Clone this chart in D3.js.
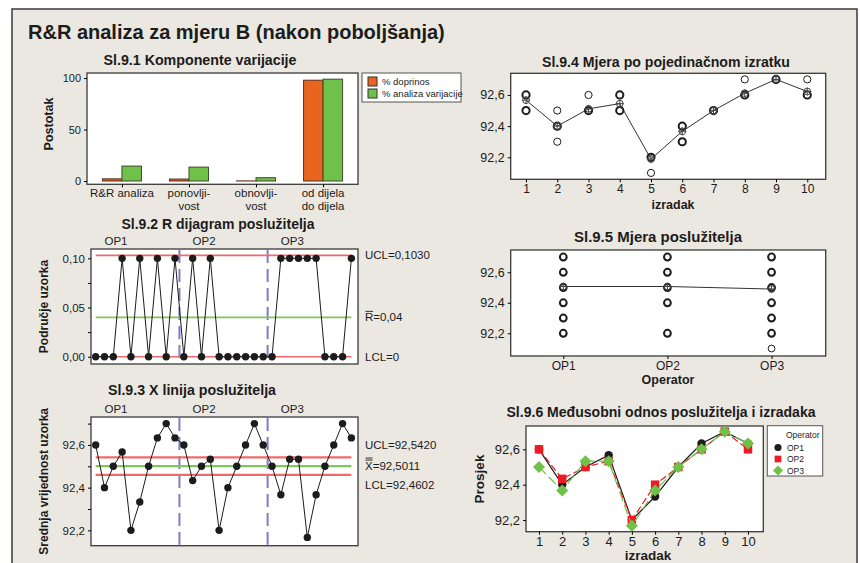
<!DOCTYPE html>
<html>
<head>
<meta charset="utf-8">
<script src="https://cdn.jsdelivr.net/npm/d3@7"></script>
<style>
  body { margin: 0; background: #fff; }
  svg { display: block; }
  text { font-family: "Liberation Sans", Arial, sans-serif; fill: #1c1c1c; }
</style>
</head>
<body>
<svg id="chart" width="860" height="563"></svg>
<script>
// Sl.9.1 components of variation
const components = ['R&R analiza', 'ponovlji-|vost', 'obnovlji-|vost', 'od dijela|do dijela'];
const pctContribution = [2.1, 1.9, 0.1, 97.9];
const pctStudyVar = [14.5, 13.5, 3.2, 98.9];
const barSeries = ['% doprinos', '% analiza varijacije'];

const operators = ['OP1', 'OP2', 'OP3'];
const parts = [1, 2, 3, 4, 5, 6, 7, 8, 9, 10];

// sample means per part (X chart, Sl.9.6)
const xbarOP1 = [92.600, 92.400, 92.500, 92.567, 92.200, 92.333, 92.500, 92.633, 92.700, 92.633];
const xbarOP2 = [92.600, 92.433, 92.500, 92.533, 92.200, 92.400, 92.500, 92.600, 92.700, 92.600];
const xbarOP3 = [92.500, 92.367, 92.533, 92.533, 92.167, 92.367, 92.500, 92.600, 92.700, 92.633];

// sample ranges per part (R chart)
const rangeOP1 = [0, 0, 0, 0.1, 0, 0.1, 0, 0.1, 0, 0.1];
const rangeOP2 = [0, 0.1, 0, 0.1, 0, 0, 0, 0, 0, 0];
const rangeOP3 = [0, 0.1, 0.1, 0.1, 0.1, 0.1, 0, 0, 0, 0.1];

// single measurements, 3 trials per part (Sl.9.4, Sl.9.5)
const measOP1 = [[92.6, 92.6, 92.6], [92.4, 92.4, 92.4], [92.5, 92.5, 92.5], [92.6, 92.6, 92.5], [92.2, 92.2, 92.2],
  [92.3, 92.3, 92.4], [92.5, 92.5, 92.5], [92.6, 92.6, 92.7], [92.7, 92.7, 92.7], [92.6, 92.6, 92.7]];
const measOP2 = [[92.6, 92.6, 92.6], [92.4, 92.4, 92.5], [92.5, 92.5, 92.5], [92.5, 92.5, 92.6], [92.2, 92.2, 92.2],
  [92.4, 92.4, 92.4], [92.5, 92.5, 92.5], [92.6, 92.6, 92.6], [92.7, 92.7, 92.7], [92.6, 92.6, 92.6]];
const measOP3 = [[92.5, 92.5, 92.5], [92.4, 92.4, 92.3], [92.5, 92.5, 92.6], [92.5, 92.5, 92.6], [92.2, 92.2, 92.1],
  [92.4, 92.4, 92.3], [92.5, 92.5, 92.5], [92.6, 92.6, 92.6], [92.7, 92.7, 92.7], [92.6, 92.6, 92.7]];

const rLimits = { ucl: 0.1030, center: 0.04, lcl: 0 };
const xLimits = { ucl: 92.5420, center: 92.5011, lcl: 92.4602 };

const C = {
  ink: '#1c1c1c',
  orange: '#e8641f',
  green: '#6fc14a',
  limit: '#ef6a6a',
  center: '#7cc85a',
  divider: '#7c7cc8',
  red: '#ec1c24',
  frame: '#3a3a3a',
};

let loc = d3.formatLocale({ decimal: ',', thousands: '.', grouping: [3], currency: ['', ''] });
let f1 = loc.format('.1f');
let f2 = loc.format('.2f');
let f4 = loc.format('.4f');

let svg = d3.select('#chart');

// page frame
svg.append('rect').attr('x', 12).attr('y', 9).attr('width', 845).attr('height', 570)
  .style('fill', '#ebe7e1').style('stroke', '#3a3a3a').style('stroke-width', 1.5);

svg.append('text').attr('x', 28).attr('y', 39)
  .style('font-size', '20px').style('font-weight', 'bold')
  .text('R&R analiza za mjeru B (nakon poboljšanja)');

function title(txt, cx, y, w) {
  svg.append('text').attr('x', cx).attr('y', y).attr('text-anchor', 'middle')
    .style('font-size', '14px').style('font-weight', 'bold')
    .attr('textLength', w).attr('lengthAdjust', 'spacingAndGlyphs')
    .text(txt);
}

function plotBox(x0, y0, x1, y1) {
  svg.append('rect').attr('x', x0).attr('y', y0).attr('width', x1 - x0).attr('height', y1 - y0)
    .style('fill', '#fff').style('stroke', C.frame).style('stroke-width', 1.3);
}

function leftAxis(y, x0, major, minor, fmt, size) {
  if (minor) {
    svg.append('g').attr('transform', `translate(${x0},0)`)
      .call(d3.axisLeft(y).tickValues(minor).tickSize(3).tickFormat(''))
      .call(g => g.select('.domain').remove());
  }
  svg.append('g').attr('transform', `translate(${x0},0)`)
    .call(d3.axisLeft(y).tickValues(major).tickSize(3).tickPadding(3).tickFormat(fmt))
    .call(g => g.select('.domain').remove())
    .call(g => g.selectAll('text').style('font-size', size + 'px').style('font-family', null).attr('fill', C.ink));
}

function bottomAxis(x, y0, values, fmt, size) {
  svg.append('g').attr('transform', `translate(0,${y0})`)
    .call(d3.axisBottom(x).tickValues(values).tickSize(3).tickPadding(2).tickFormat(fmt))
    .call(g => g.select('.domain').remove())
    .call(g => g.selectAll('text').style('font-size', size + 'px').style('font-family', null).attr('fill', C.ink));
}

function axisLabel(txt, x, y, size, rotate) {
  svg.append('text').attr('text-anchor', 'middle')
    .attr('transform', `translate(${x},${y})` + (rotate ? ' rotate(-90)' : ''))
    .style('font-size', size + 'px').style('font-weight', 'bold')
    .text(txt);
}

// ---------- Sl.9.1 ----------
{
  title('Sl.9.1 Komponente varijacije', 200, 65, 193);
  plotBox(87, 73, 358, 184.3);
  let x = d3.scaleBand().domain(components).range([87, 358]).paddingInner(0.418).paddingOuter(0.23);
  let xi = d3.scaleBand().domain([0, 1]).range([0, x.bandwidth()]);
  let y = d3.scaleLinear().domain([-3.2, 104.9]).range([184.3, 73]);
  let rows = components.map((c, i) => ({ c, vals: [pctContribution[i], pctStudyVar[i]] }));
  let grp = svg.append('g').selectAll('g').data(rows).join('g')
    .attr('transform', d => `translate(${x(d.c)},0)`);
  grp.selectAll('rect').data(d => d.vals).join('rect')
    .attr('x', (d, j) => xi(j)).attr('width', xi.bandwidth())
    .attr('y', d => y(Math.max(d, 0))).attr('height', d => Math.abs(y(d) - y(0)))
    .style('fill', (d, j) => j ? C.green : C.orange)
    .style('stroke', (d, j) => j ? '#3b4a30' : '#5a3020').style('stroke-width', 1);
  leftAxis(y, 87, [0, 50, 100], null, d3.format('d'), 11);
  svg.append('g').attr('transform', 'translate(0,184.3)')
    .call(d3.axisBottom(d3.scalePoint().domain(components).range([x(components[0]) + x.bandwidth() / 2, x(components[3]) + x.bandwidth() / 2])).tickSize(3).tickFormat(''))
    .call(g => g.select('.domain').remove());
  let lab = svg.append('g').selectAll('text').data(components).join('text')
    .attr('text-anchor', 'middle').style('font-size', '11.5px')
    .attr('x', d => x(d) + x.bandwidth() / 2).attr('y', 197);
  lab.selectAll('tspan').data(d => d.split('|')).join('tspan')
    .attr('x', function () { return this.parentNode.getAttribute('x'); })
    .attr('dy', (d, i) => i ? 13 : 0).text(d => d);
  axisLabel('Postotak', 53, 124, 12.5, true);

  let lg = svg.append('g');
  lg.append('rect').attr('x', 362).attr('y', 73).attr('width', 99).attr('height', 29)
    .style('fill', '#fff').style('stroke', '#555');
  barSeries.forEach((s, i) => {
    lg.append('rect').attr('x', 368).attr('y', 77 + i * 12).attr('width', 9).attr('height', 9)
      .style('fill', i ? C.green : C.orange).style('stroke', '#333');
    lg.append('text').attr('x', 382).attr('y', 85 + i * 12).style('font-size', '9.5px').text(s);
  });
}

// shared piece for the two control charts
function controlChart(opt) {
  let { top, bottom, yDomain, series, limits, fmtLimit, major, minor, fmtTick, ylabel, labelOffsets, centerName } = opt;
  let x0 = 91, x1 = 358;
  plotBox(x0, top, x1, bottom);
  let x = d3.scaleLinear().domain([0.47, 30.75]).range([x0, x1]);
  let y = d3.scaleLinear().domain(yDomain).range([bottom, top]);
  let pts = series.flat().map((v, i) => ({ i: i + 1, v }));

  // operator dividers
  [10.5, 20.5].forEach(b => {
    svg.append('line').attr('x1', x(b)).attr('x2', x(b)).attr('y1', top + 1).attr('y2', bottom - 1)
      .style('stroke', C.divider).style('stroke-width', 2).style('stroke-dasharray', '13,6');
  });
  operators.forEach((op, k) => {
    svg.append('text').attr('x', x(k * 10 + 3.3)).attr('y', top - 4).attr('text-anchor', 'middle')
      .style('font-size', '11.5px').text(op);
  });

  let lx0 = x(1), lx1 = x(30);
  [['ucl', C.limit], ['center', C.center], ['lcl', C.limit]].forEach(([k, col]) => {
    svg.append('line').attr('x1', lx0).attr('x2', lx1).attr('y1', y(limits[k])).attr('y2', y(limits[k]))
      .style('stroke', col).style('stroke-width', opt.limitWidth);
  });

  svg.append('path').datum(pts)
    .attr('d', d3.line().x(d => x(d.i)).y(d => y(d.v)))
    .style('fill', 'none').style('stroke', C.ink).style('stroke-width', 1);
  svg.append('g').selectAll('circle').data(pts).join('circle')
    .attr('cx', d => x(d.i)).attr('cy', d => y(d.v)).attr('r', 3.7).style('fill', C.ink);

  leftAxis(y, x0, major, minor, fmtTick, 11.5);
  axisLabel(ylabel, 48, (top + bottom) / 2, 12, true);

  // limit labels on the right
  let lbl = [
    { k: 'ucl', t: 'UCL=' + fmtLimit(limits.ucl) },
    { k: 'center', t: '=' + fmtLimit(limits.center), bar: true },
    { k: 'lcl', t: 'LCL=' + fmtLimit(limits.lcl) },
  ];
  lbl.forEach((l, i) => {
    let yy = y(limits[l.k]) + 4 + labelOffsets[i];
    let t = svg.append('text').attr('x', 365).attr('y', yy).style('font-size', '11.5px');
    if (l.bar) {
      t.append('tspan').text(centerName.ch);
      t.append('tspan').text(l.t);
      let w = centerName.w;
      for (let b = 0; b < centerName.bars; b++) {
        svg.append('line').attr('x1', 365.5).attr('x2', 365 + w).attr('y1', yy - 10 - b * 2).attr('y2', yy - 10 - b * 2)
          .style('stroke', C.ink).style('stroke-width', 0.9);
      }
    } else {
      t.text(l.t);
    }
  });
}

// ---------- Sl.9.2 ----------
title('Sl.9.2 R dijagram poslužitelja', 218, 229, 193);
controlChart({
  top: 249, bottom: 364, yDomain: [-0.0074, 0.1095],
  series: [rangeOP1, rangeOP2, rangeOP3], limits: rLimits,
  fmtLimit: v => v === 0 ? '0' : (v === rLimits.ucl ? f4(v) : f2(v)),
  major: [0, 0.05, 0.1], minor: [0.025, 0.075], fmtTick: f2,
  ylabel: 'Područje uzorka', labelOffsets: [0, 0, 0],
  centerName: { ch: 'R', w: 8, bars: 1 }, limitWidth: 1.6,
});

// ---------- Sl.9.3 ----------
title('Sl.9.3 X linija poslužitelja', 192, 395, 168);
controlChart({
  top: 417, bottom: 545.7, yDomain: [92.128, 92.731],
  series: [xbarOP1, xbarOP2, xbarOP3], limits: xLimits,
  fmtLimit: f4,
  major: [92.2, 92.4, 92.6], minor: [92.3, 92.5, 92.7], fmtTick: f1,
  ylabel: 'Srednja vrijednost uzorka', labelOffsets: [-12, 0, 10],
  centerName: { ch: 'X', w: 7.5, bars: 2 }, limitWidth: 2.2,
});

// ---------- Sl.9.4 ----------
function crossMarker(g, cx, cy) {
  g.append('circle').attr('cx', cx).attr('cy', cy).attr('r', 3.4)
    .style('fill', 'none').style('stroke', '#444').style('stroke-width', 1);
  g.append('path').attr('d', `M${cx - 4},${cy}H${cx + 4}M${cx},${cy - 4}V${cy + 4}`)
    .style('stroke', '#444').style('stroke-width', 1);
}

{
  title('Sl.9.4 Mjera po pojedinačnom izratku', 666, 67, 248);
  let [x0, y0, x1, y1] = [510.7, 73.3, 825.7, 179.3];
  plotBox(x0, y0, x1, y1);
  let x = d3.scaleLinear().domain([0.51, 10.59]).range([x0, x1]);
  let y = d3.scaleLinear().domain([92.059, 92.739]).range([y1, y0]);
  let all = [measOP1, measOP2, measOP3];
  let dots = [];
  parts.forEach((p, i) => {
    let vals = all.flatMap(op => op[i]);
    d3.rollups(vals, v => v.length, v => v.toFixed(1)).forEach(([v, n]) => dots.push({ p, v: +v, n }));
  });
  let means = parts.map((p, i) => ({ p, v: d3.mean(all.flatMap(op => op[i])) }));
  let g = svg.append('g');
  g.append('path').datum(means).attr('d', d3.line().x(d => x(d.p)).y(d => y(d.v)))
    .style('fill', 'none').style('stroke', '#333').style('stroke-width', 1);
  g.selectAll('circle.m').data(dots).join('circle').attr('class', 'm')
    .attr('cx', d => x(d.p)).attr('cy', d => y(d.v)).attr('r', 3.6)
    .style('fill', 'none').style('stroke', C.ink).style('stroke-width', d => d.n >= 3 ? 2 : 1);
  means.forEach(d => crossMarker(g, x(d.p), y(d.v)));
  leftAxis(y, x0, [92.2, 92.4, 92.6], null, f1, 12.5);
  bottomAxis(x, y1, parts, d3.format('d'), 12);
  axisLabel('izradak', 673, 208.5, 12.5);
}

// ---------- Sl.9.5 ----------
{
  title('Sl.9.5 Mjera poslužitelja', 658, 242, 168);
  let [x0, y0, x1, y1] = [510.7, 250, 825.7, 356];
  plotBox(x0, y0, x1, y1);
  let x = d3.scaleLinear().domain([0.495, 3.52]).range([x0, x1]);
  let y = d3.scaleLinear().domain([92.051, 92.746]).range([y1, y0]);
  let all = [measOP1, measOP2, measOP3];
  let dots = [];
  all.forEach((op, k) => {
    d3.rollups(op.flat(), v => v.length, v => v.toFixed(1)).forEach(([v, n]) => dots.push({ k: k + 1, v: +v, n }));
  });
  let means = all.map((op, k) => ({ k: k + 1, v: d3.mean(op.flat()) }));
  let g = svg.append('g');
  g.append('path').datum(means).attr('d', d3.line().x(d => x(d.k)).y(d => y(d.v)))
    .style('fill', 'none').style('stroke', '#333').style('stroke-width', 1);
  g.selectAll('circle.m').data(dots).join('circle').attr('class', 'm')
    .attr('cx', d => x(d.k)).attr('cy', d => y(d.v)).attr('r', 3.4)
    .style('fill', 'none').style('stroke', C.ink).style('stroke-width', d => d.n >= 2 ? 2 : 1);
  means.forEach(d => crossMarker(g, x(d.k), y(d.v)));
  leftAxis(y, x0, [92.2, 92.4, 92.6], null, f1, 12.5);
  bottomAxis(x, y1, [1, 2, 3], d => operators[d - 1], 12);
  axisLabel('Operator', 668, 383.5, 12.5);
}

// ---------- Sl.9.6 ----------
let diamond = {
  draw(ctx, size) {
    let r = Math.sqrt(size / 2);
    ctx.moveTo(0, -r); ctx.lineTo(r, 0); ctx.lineTo(0, r); ctx.lineTo(-r, 0); ctx.closePath();
  }
};

{
  title('Sl.9.6  Međusobni odnos poslužitelja i izradaka', 661, 417, 309);
  let [x0, y0, x1, y1] = [526, 426, 763.3, 531.7];
  plotBox(x0, y0, x1, y1);
  let x = d3.scaleLinear().domain([0.44, 10.66]).range([x0, x1]);
  let y = d3.scaleLinear().domain([92.134, 92.732]).range([y1, y0]);
  let styles = [
    { col: C.ink, dash: null, sym: d3.symbolCircle, size: 56, lsize: 40 },
    { col: C.red, dash: '7,3', sym: d3.symbolSquare, size: 72, lsize: 45 },
    { col: C.green, dash: '10,4', sym: diamond, size: 72, lsize: 50 },
  ];
  let series = [xbarOP1, xbarOP2, xbarOP3];
  series.forEach((vals, k) => {
    let s = styles[k];
    let pts = vals.map((v, i) => ({ p: parts[i], v }));
    svg.append('path').datum(pts).attr('d', d3.line().x(d => x(d.p)).y(d => y(d.v)))
      .style('fill', 'none').style('stroke', s.col).style('stroke-width', 1.2)
      .style('stroke-dasharray', s.dash);
    svg.append('g').selectAll('path').data(pts).join('path')
      .attr('transform', d => `translate(${x(d.p)},${y(d.v)})`)
      .attr('d', d3.symbol(s.sym, s.size)).style('fill', s.col);
  });
  leftAxis(y, x0, [92.2, 92.4, 92.6], null, f1, 13);
  bottomAxis(x, y1, parts, d3.format('d'), 13);
  axisLabel('izradak', 648, 560, 13.5);
  axisLabel('Prosjek', 484, 479, 13.5, true);

  let lg = svg.append('g');
  lg.append('rect').attr('x', 767.3).attr('y', 425.7).attr('width', 55.4).attr('height', 50.3)
    .style('fill', '#fff').style('stroke', '#555');
  lg.append('text').attr('x', 786).attr('y', 437.5).style('font-size', '8.5px').text('Operator');
  operators.forEach((op, k) => {
    let yy = 447.5 + k * 11.5;
    lg.append('path').attr('transform', `translate(778,${yy})`)
      .attr('d', d3.symbol(styles[k].sym, styles[k].lsize)).style('fill', styles[k].col);
    lg.append('text').attr('x', 787).attr('y', yy + 3.2).style('font-size', '8.5px').text(op);
  });
}
</script>
</body>
</html>
